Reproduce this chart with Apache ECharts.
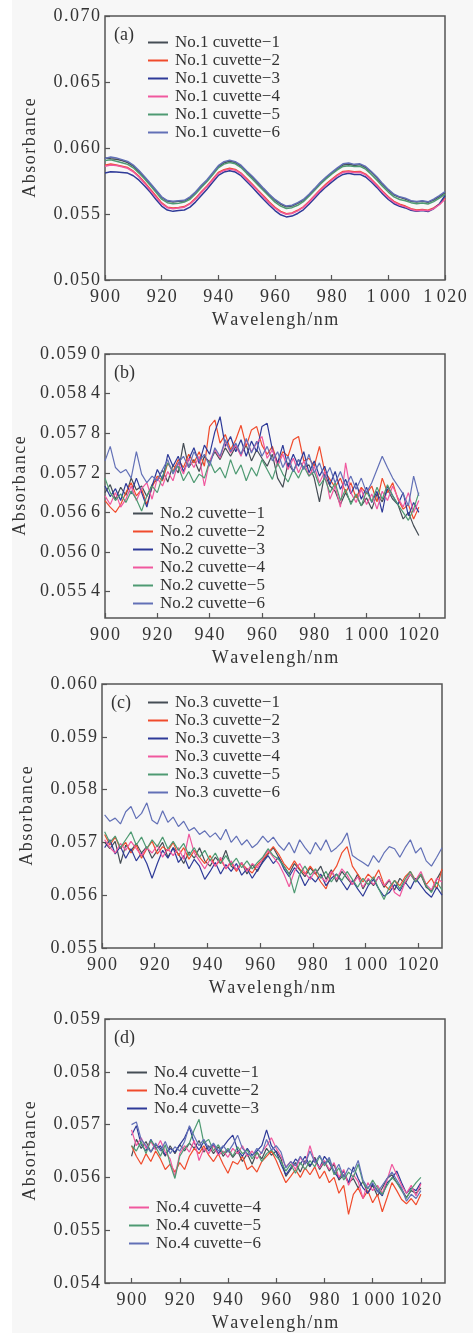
<!DOCTYPE html>
<html><head><meta charset="utf-8">
<script src="https://cdn.jsdelivr.net/npm/echarts@6/dist/echarts.min.js"></script>
<style>html,body{margin:0;padding:0;background:#fff}#c{width:473px;height:1333px}</style>
</head><body><div id="c"></div>
<script>
// All absorbance values below are given as absorbance x 1e5 (e.g. 5920 = 0.05920)
const SCALE = 1e5;

// ---- Panel (a): No.1 cuvette, 900-1020 nm, 2 nm step ----
const a1 = [5925,5918,5915,5905,5890,5862,5822,5775,5726,5676,5626,5598,5590,5596,5598,5622,5662,5710,5752,5804,5858,5888,5900,5890,5862,5820,5778,5732,5688,5644,5604,5574,5555,5560,5580,5604,5644,5688,5734,5772,5810,5842,5872,5878,5868,5874,5852,5816,5772,5722,5680,5644,5626,5614,5596,5590,5596,5588,5606,5632,5662];
const a2 = [5870,5878,5872,5862,5852,5824,5785,5738,5688,5636,5584,5552,5545,5550,5556,5580,5620,5668,5712,5764,5815,5835,5846,5838,5810,5768,5726,5680,5636,5590,5550,5520,5502,5508,5528,5554,5594,5640,5686,5726,5762,5796,5822,5826,5820,5822,5802,5764,5720,5672,5630,5596,5574,5560,5540,5530,5535,5528,5546,5574,5620];
const a3 = [5810,5820,5818,5815,5810,5790,5756,5712,5664,5610,5560,5530,5520,5526,5530,5552,5592,5640,5688,5740,5792,5818,5828,5818,5790,5746,5702,5656,5610,5566,5526,5494,5478,5484,5504,5532,5574,5620,5666,5706,5742,5776,5800,5808,5800,5800,5780,5742,5700,5652,5610,5578,5558,5546,5528,5520,5526,5518,5540,5576,5640];
const a4 = [5862,5872,5868,5858,5846,5820,5780,5732,5680,5628,5578,5548,5540,5546,5552,5576,5614,5662,5708,5758,5808,5830,5840,5832,5806,5762,5720,5674,5628,5584,5544,5514,5498,5504,5524,5550,5590,5636,5680,5720,5756,5790,5816,5820,5814,5816,5796,5758,5714,5666,5624,5590,5568,5554,5536,5524,5530,5524,5540,5570,5612];
const a5 = [5905,5910,5900,5888,5876,5850,5810,5765,5716,5664,5612,5586,5578,5582,5590,5612,5654,5700,5746,5798,5850,5878,5890,5880,5852,5808,5766,5720,5676,5632,5590,5560,5542,5548,5566,5594,5634,5680,5726,5766,5802,5834,5860,5866,5860,5862,5840,5800,5756,5708,5666,5630,5610,5600,5586,5578,5584,5576,5594,5620,5650];
const a6 = [5920,5932,5925,5912,5898,5870,5830,5782,5733,5682,5630,5602,5596,5600,5604,5630,5668,5718,5760,5812,5866,5896,5908,5896,5870,5826,5786,5740,5694,5650,5610,5580,5560,5566,5586,5610,5650,5694,5740,5780,5816,5850,5880,5886,5876,5880,5860,5822,5780,5730,5686,5650,5630,5620,5600,5595,5600,5592,5612,5640,5670];

// ---- Panel (b): No.2 cuvette, 900-1020 nm, 2 nm step ----
const b1 = [5690,5702,5680,5698,5686,5712,5694,5700,5684,5702,5710,5724,5706,5732,5720,5765,5728,5740,5722,5745,5736,5752,5740,5758,5745,5760,5748,5762,5738,5755,5742,5730,5748,5712,5698,5735,5722,5740,5728,5732,5712,5676,5718,5700,5692,5672,5690,5675,5686,5670,5682,5665,5688,5676,5695,5680,5672,5650,5660,5640,5625];
const b2 = [5678,5668,5660,5672,5690,5705,5685,5695,5672,5698,5715,5708,5735,5722,5740,5728,5748,5735,5752,5730,5790,5800,5765,5778,5755,5770,5792,5760,5785,5790,5762,5748,5760,5735,5752,5745,5770,5775,5738,5742,5730,5760,5722,5710,5698,5712,5690,5705,5682,5698,5688,5700,5676,5712,5690,5705,5680,5665,5672,5650,5668];
const b3 = [5700,5684,5696,5678,5704,5688,5712,5690,5668,5700,5725,5710,5748,5730,5745,5722,5740,5758,5734,5762,5748,5782,5805,5760,5775,5752,5770,5745,5768,5752,5790,5795,5755,5735,5762,5728,5748,5730,5752,5720,5738,5715,5730,5702,5722,5695,5710,5688,5705,5680,5698,5675,5692,5660,5700,5685,5672,5690,5655,5675,5660];
const b4 = [5685,5672,5690,5668,5680,5700,5678,5696,5705,5680,5712,5700,5722,5708,5735,5718,5742,5728,5745,5700,5738,5755,5742,5768,5750,5762,5745,5770,5752,5765,5775,5742,5755,5730,5748,5725,5742,5720,5738,5715,5730,5705,5722,5680,5700,5668,5735,5690,5675,5695,5672,5688,5665,5692,5678,5700,5682,5668,5690,5660,5678];
const b5 = [5712,5690,5678,5688,5675,5692,5680,5662,5685,5700,5690,5715,5735,5722,5730,5708,5722,5705,5718,5712,5738,5720,5728,5712,5740,5718,5732,5708,5728,5715,5740,5725,5710,5735,5718,5706,5725,5712,5730,5715,5722,5700,5712,5690,5705,5678,5695,5672,5688,5670,5692,5676,5698,5680,5702,5685,5672,5660,5648,5665,5690];
const b6 = [5738,5760,5728,5720,5725,5712,5752,5718,5705,5715,5708,5725,5740,5718,5735,5745,5728,5752,5738,5748,5730,5758,5745,5770,5752,5765,5748,5772,5750,5768,5745,5760,5738,5752,5728,5745,5722,5740,5725,5748,5720,5735,5712,5728,5705,5722,5700,5715,5695,5712,5690,5705,5725,5745,5728,5712,5700,5688,5670,5715,5685];

// ---- Panel (c): No.3 cuvette, 901-1029 nm, 2 nm step ----
const c1 = [5700,5688,5702,5660,5695,5684,5698,5680,5692,5670,5685,5700,5672,5690,5678,5660,5682,5670,5690,5665,5655,5672,5660,5685,5655,5648,5662,5640,5658,5645,5665,5678,5690,5672,5655,5640,5660,5648,5635,5652,5640,5655,5630,5648,5625,5645,5632,5620,5640,5612,5630,5618,5636,5615,5628,5610,5632,5622,5640,5625,5638,5615,5608,5630,5648];
const c2 = [5715,5695,5710,5688,5700,5680,5695,5670,5688,5702,5678,5692,5684,5700,5675,5690,5668,5685,5672,5660,5675,5655,5668,5650,5662,5645,5660,5650,5642,5658,5668,5680,5692,5678,5660,5648,5665,5650,5640,5655,5642,5625,5612,5640,5655,5680,5692,5655,5640,5625,5640,5630,5648,5620,5610,5628,5618,5635,5645,5628,5640,5620,5632,5612,5650];
const c3 = [5690,5705,5678,5692,5670,5688,5665,5680,5660,5632,5660,5685,5670,5690,5662,5675,5650,5668,5655,5630,5645,5662,5640,5658,5645,5660,5638,5650,5632,5648,5662,5675,5660,5672,5650,5635,5652,5640,5618,5635,5625,5640,5618,5632,5640,5625,5610,5628,5612,5598,5618,5630,5612,5598,5605,5620,5608,5625,5612,5632,5618,5605,5596,5615,5600];
const c4 = [5705,5690,5680,5698,5685,5702,5688,5675,5690,5680,5695,5672,5688,5675,5690,5668,5716,5680,5665,5650,5668,5655,5672,5650,5665,5648,5662,5645,5660,5652,5670,5685,5672,5660,5640,5616,5645,5660,5642,5630,5648,5635,5625,5645,5630,5650,5638,5620,5635,5615,5632,5620,5635,5618,5630,5605,5598,5625,5640,5628,5645,5620,5610,5632,5625];
const c5 = [5720,5700,5712,5690,5705,5720,5695,5710,5688,5705,5692,5710,5688,5702,5685,5698,5675,5690,5672,5685,5665,5680,5660,5675,5658,5670,5652,5665,5650,5662,5672,5688,5675,5668,5655,5640,5604,5640,5655,5638,5650,5632,5645,5625,5640,5628,5645,5630,5615,5632,5620,5635,5612,5592,5615,5628,5612,5630,5645,5625,5640,5618,5605,5625,5610];
const c6 = [5752,5740,5746,5735,5758,5768,5745,5755,5775,5742,5735,5760,5738,5748,5730,5740,5722,5728,5715,5722,5710,5718,5705,5725,5700,5712,5695,5705,5690,5698,5712,5700,5710,5695,5685,5700,5680,5705,5690,5678,5700,5685,5705,5682,5690,5700,5718,5675,5668,5662,5655,5675,5662,5680,5692,5688,5672,5690,5705,5680,5690,5665,5655,5672,5690];

// ---- Panel (d): No.4 cuvette, 900-1020 nm, 2 nm step ----
const d1 = [5640,5672,5655,5668,5648,5662,5655,5640,5660,5645,5662,5650,5665,5655,5670,5648,5660,5645,5658,5640,5652,5638,5650,5630,5645,5625,5648,5635,5655,5642,5650,5635,5602,5615,5628,5610,5632,5620,5638,5615,5630,5612,5625,5595,5605,5590,5598,5580,5592,5570,5585,5565,5580,5598,5605,5590,5578,5562,5575,5570,5580];
const d2 = [5660,5640,5625,5645,5630,5650,5635,5615,5625,5610,5628,5615,5640,5655,5645,5660,5642,5630,5645,5625,5608,5630,5625,5640,5615,5622,5610,5630,5640,5650,5632,5610,5590,5602,5615,5600,5618,5605,5620,5598,5612,5590,5600,5570,5585,5530,5568,5580,5560,5575,5552,5568,5535,5562,5590,5575,5558,5550,5560,5548,5568];
const d3 = [5680,5698,5662,5650,5672,5655,5660,5642,5655,5648,5662,5675,5695,5665,5652,5668,5650,5662,5645,5658,5670,5680,5652,5640,5655,5642,5650,5660,5690,5660,5648,5625,5605,5618,5635,5625,5640,5622,5635,5618,5640,5628,5610,5598,5612,5590,5620,5598,5580,5570,5588,5575,5565,5590,5598,5612,5590,5570,5580,5575,5590];
const d4 = [5690,5660,5675,5655,5668,5652,5670,5648,5635,5602,5645,5660,5648,5670,5632,5655,5645,5660,5642,5650,5638,5655,5645,5660,5640,5650,5635,5648,5660,5675,5655,5640,5620,5630,5615,5638,5625,5660,5630,5618,5632,5615,5628,5600,5615,5585,5605,5592,5560,5590,5575,5585,5570,5595,5625,5605,5585,5570,5585,5565,5588];
const d5 = [5660,5650,5668,5645,5670,5658,5640,5662,5625,5598,5640,5655,5665,5690,5710,5665,5672,5650,5662,5645,5655,5640,5658,5645,5652,5635,5648,5630,5645,5652,5640,5630,5612,5625,5608,5628,5615,5632,5620,5640,5622,5635,5605,5618,5595,5610,5600,5625,5590,5578,5595,5580,5568,5585,5600,5590,5575,5560,5578,5590,5600];
const d6 = [5700,5705,5672,5660,5648,5665,5650,5668,5645,5658,5650,5668,5698,5678,5660,5672,5655,5665,5650,5660,5648,5662,5680,5655,5645,5640,5655,5645,5672,5652,5660,5648,5618,5630,5622,5640,5625,5650,5628,5642,5625,5638,5610,5625,5600,5618,5610,5632,5595,5580,5590,5572,5585,5598,5610,5595,5580,5555,5568,5560,5575];

// ---- Axis tick values ----
const xTicks = [900, 920, 940, 960, 980, 1000, 1020];
const yTicksA = [0.050, 0.055, 0.060, 0.065, 0.070];
const yTicksB = [0.0554, 0.0560, 0.0566, 0.0572, 0.0578, 0.0584, 0.0590];
const yTicksC = [0.055, 0.056, 0.057, 0.058, 0.059, 0.060];
const yTicksD = [0.054, 0.055, 0.056, 0.057, 0.058, 0.059];

const COLORS = ['#454d55', '#f04b2c', '#2e3a98', '#f0589e', '#4e9a72', '#6270b6'];
const FONT = 'Liberation Serif';
const ls = s => s.split('').join('\u200A'); // slight letter spacing like the original typesetting

function wlGrid(start, step, n) { const r = []; for (let i = 0; i < n; i++) r.push(start + i * step); return r; }

const panels = [
  {tag:'(a)', no:1, data:[a1,a2,a3,a4,a5,a6], start:900, grid:{left:105, top:16, width:340, height:264},
   xmin:900, xmax:1020, ymin:0.050, ymax:0.070, yTicks:yTicksA, yDigits:3, space1020:true, lw:1.5},
  {tag:'(b)', no:2, data:[b1,b2,b3,b4,b5,b6], start:900, grid:{left:105, top:354, width:340, height:264},
   xmin:900, xmax:1030, ymin:0.0550, ymax:0.0590, yTicks:yTicksB, yDigits:4, space1020:false, lw:1.2},
  {tag:'(c)', no:3, data:[c1,c2,c3,c4,c5,c6], start:901, grid:{left:102, top:684, width:340, height:264},
   xmin:900, xmax:1029, ymin:0.055, ymax:0.060, yTicks:yTicksC, yDigits:3, space1020:false, lw:1.2},
  {tag:'(d)', no:4, data:[d1,d2,d3,d4,d5,d6], start:900, grid:{left:105, top:1019, width:340, height:265},
   xmin:889, xmax:1030, ymin:0.054, ymax:0.059, yTicks:yTicksD, yDigits:3, space1020:false, lw:1.2}
];

const option = {
  backgroundColor: '#f7f7f7',
  animation: false,
  grid: [], xAxis: [], yAxis: [], series: [], legend: [], title: [],
  graphic: [{type:'rect', shape:{x:0, y:0, width:12, height:1333}, style:{fill:'#ffffff'}, silent:true}]
};

const legendPos = [
  [{left:148, top:34, idx:[0,1,2,3,4,5]}],
  [{left:133, top:505, idx:[0,1,2,3,4,5]}],
  [{left:148, top:694, idx:[0,1,2,3,4,5]}],
  [{left:127, top:1064, idx:[0,1,2]}, {left:129, top:1199, idx:[3,4,5]}]
];

panels.forEach((p, gi) => {
  option.grid.push(Object.assign({show:true, borderColor:'#555', borderWidth:1.5, backgroundColor:'transparent'}, p.grid));
  option.xAxis.push({
    type:'value', gridIndex:gi, min:p.xmin, max:p.xmax,
    name:ls('Wavelengh/nm'), nameLocation:'middle', nameGap:31,
    nameTextStyle:{fontFamily:FONT, fontSize:18, color:'#333'},
    axisLine:{show:false}, splitLine:{show:false},
    axisTick:{show:true, inside:true, length:5, customValues:xTicks, lineStyle:{color:'#555', width:1.2}},
    axisLabel:{customValues:xTicks, margin:8, fontFamily:FONT, fontSize:18, color:'#333',
      formatter: v => {
        if (v === 1000) return ls('1') + ' ' + ls('000');
        if (v === 1020) return p.space1020 ? ls('1') + ' ' + ls('020') : ls('1020');
        return ls(String(v));
      }}
  });
  option.yAxis.push({
    type:'value', gridIndex:gi, min:p.ymin, max:p.ymax,
    name:ls('Absorbance'), nameLocation:'middle', nameGap:66,
    nameTextStyle:{fontFamily:FONT, fontSize:18, color:'#333'},
    axisLine:{show:false}, splitLine:{show:false},
    axisTick:{show:true, inside:true, length:5, customValues:p.yTicks, lineStyle:{color:'#555', width:1.2}},
    axisLabel:{customValues:p.yTicks, margin:5, fontFamily:FONT, fontSize:18, color:'#333',
      formatter: v => {
        const s = v.toFixed(p.yDigits);
        return p.yDigits === 4 ? ls(s.slice(0,5)) + ' ' + s.slice(5) : ls(s);
      }}
  });
  const wl = wlGrid(p.start, 2, p.data[0].length);
  p.data.forEach((arr, si) => {
    option.series.push({
      type:'line', name:'No.' + p.no + ' cuvette\u2212' + (si + 1),
      xAxisIndex:gi, yAxisIndex:gi, showSymbol:false, symbol:'none',
      data: arr.map((v, i) => [wl[i], v / SCALE]),
      lineStyle:{color:COLORS[si], width:p.lw}, itemStyle:{color:COLORS[si]}
    });
  });
  legendPos[gi].forEach(lp => {
    option.legend.push({
      orient:'vertical', left:lp.left, top:lp.top, padding:0,
      icon:'rect', itemWidth:20, itemHeight:2, itemGap:1, selectedMode:false,
      textStyle:{fontFamily:FONT, fontSize:17, color:'#333', lineHeight:16, padding:[0,0,0,2]},
      data: lp.idx.map(si => 'No.' + p.no + ' cuvette\u2212' + (si + 1))
    });
  });
  option.title.push({
    text:p.tag, left:p.grid.left + 9, top:p.grid.top + 10, padding:0,
    textStyle:{fontFamily:FONT, fontSize:18, fontWeight:'normal', color:'#333'}
  });
});

const chart = echarts.init(document.getElementById('c'), null, {renderer:'canvas'});
chart.setOption(option);
</script>
</body></html>
